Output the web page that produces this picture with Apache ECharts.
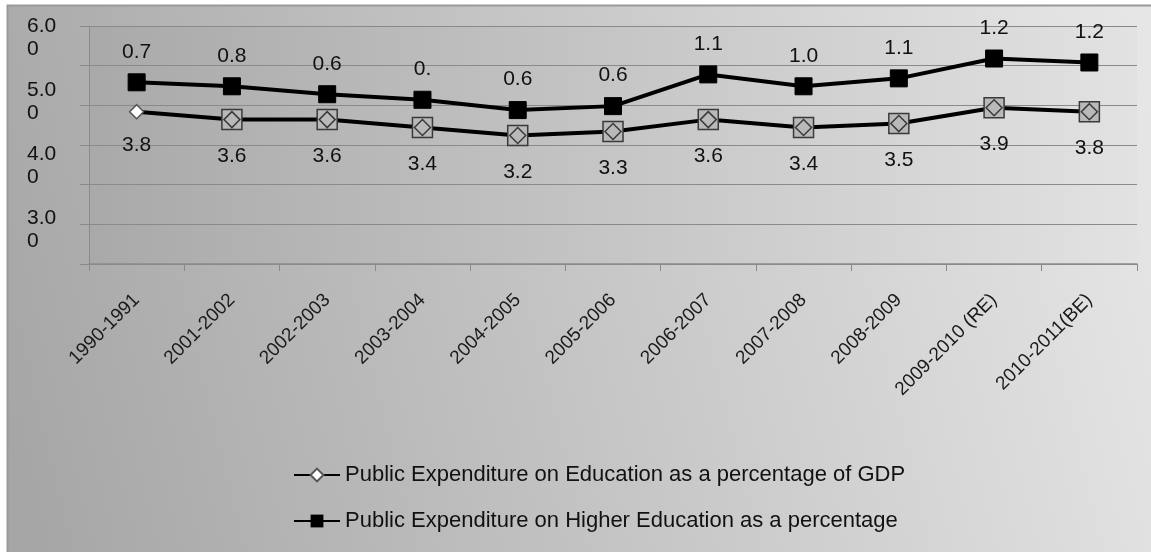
<!DOCTYPE html>
<html>
<head>
<meta charset="utf-8">
<script src="https://cdn.jsdelivr.net/npm/echarts@6/dist/echarts.min.js"></script>
<style>html,body{margin:0;padding:0;background:#fff}#c{width:1151px;height:552px}</style>
</head>
<body>
<div id="c"></div>
<script>
const categories = ['1990-1991','2001-2002','2002-2003','2003-2004','2004-2005','2005-2006','2006-2007','2007-2008','2008-2009','2009-2010 (RE)','2010-2011(BE)'];
const gdpShare = [3.84,3.64,3.64,3.44,3.24,3.34,3.64,3.44,3.54,3.94,3.84];
const higherShare = [0.74,0.84,0.64,0.70,0.64,0.64,1.14,1.04,1.14,1.24,1.24];
const higherLabels = ['0.7','0.8','0.6','0.','0.6','0.6','1.1','1.0','1.1','1.2','1.2'];
const yTickValues = [6,5,4,3,2];
const seriesNames = ['Public Expenditure on Education as a percentage of GDP','Public Expenditure on Higher Education as a percentage'];

const chart = echarts.init(document.getElementById('c'), null, {renderer:'canvas'});
const FONT = 'Liberation Sans, Arial, sans-serif';
const boxPath = 'path://M0,0L20,0L20,20L0,20Z M10,2L18,10L10,18L2,10Z';

const gdpData = gdpShare.map((v,i)=> i===0 ? {value:v} : {
  value:v, symbol:boxPath, symbolSize:20,
  itemStyle:{color:'#b9b9b9', borderColor:'#3a3a3a', borderWidth:1.5}
});

chart.setOption({
  backgroundColor:'#ffffff',
  animation:false,
  graphic:[{
    type:'rect', z:-10, silent:true,
    shape:{x:7.5,y:5.5,width:1150,height:560},
    style:{
      fill:new echarts.graphic.LinearGradient(0,0.75,1,0.25,[{offset:0,color:'#a6a6a6'},{offset:1,color:'#e6e6e6'}]),
      stroke:'#9a9a9a', lineWidth:2
    }
  }],
  grid:[
    {left:89,right:14,top:26,height:238,show:true,borderWidth:0,
     backgroundColor:new echarts.graphic.LinearGradient(0,0,1,0,[{offset:0,color:'#a9a9a9'},{offset:1,color:'#e2e2e2'}])},
    {left:27,width:1,top:38,height:255,show:false}
  ],
  legend:{
    orient:'vertical', left:288, top:459, itemWidth:46, itemHeight:16, itemGap:24,
    textStyle:{fontFamily:FONT,fontSize:22,color:'#111'},
    data:seriesNames
  },
  xAxis:[
    {type:'category',gridIndex:0,data:categories,boundaryGap:true,
     axisLine:{lineStyle:{color:'#8a8a8a',width:1.5}},
     axisTick:{show:true,length:7,lineStyle:{color:'#8a8a8a'}},
     axisLabel:{interval:0,rotate:45,margin:33,fontFamily:FONT,fontSize:19,color:'#1a1a1a'}},
    {type:'category',gridIndex:1,show:false,data:[]}
  ],
  yAxis:[
    {type:'value',gridIndex:0,min:0,max:6,interval:1,
     axisLine:{show:true,lineStyle:{color:'#8a8a8a'}},
     axisTick:{show:true,length:9,lineStyle:{color:'#8a8a8a'}},
     axisLabel:{show:false},
     splitLine:{lineStyle:{color:'#8a8a8a',width:1.2}}},
    {type:'value',gridIndex:1,min:Math.min(...yTickValues),max:Math.max(...yTickValues),interval:1,
     axisLine:{show:false},axisTick:{show:false},splitLine:{show:false},
     axisLabel:{align:'left',margin:0,fontFamily:FONT,fontSize:21,lineHeight:23,color:'#111',
       formatter:v=> v===2 ? '' : v.toFixed(1)+'\n0'}}
  ],
  series:[
    {name:seriesNames[0],type:'line',stack:'total',xAxisIndex:0,yAxisIndex:0,
     data:gdpData,symbol:'diamond',symbolSize:14,
     lineStyle:{color:'#000',width:4},
     itemStyle:{color:'#ffffff',borderColor:'#555',borderWidth:1.5},
     label:{show:true,position:'bottom',distance:15,fontFamily:FONT,fontSize:21,color:'#111',
       formatter:p=>gdpShare[p.dataIndex].toFixed(1)},
     z:3},
    {name:seriesNames[1],type:'line',stack:'total',xAxisIndex:0,yAxisIndex:0,
     data:higherShare,symbol:'rect',symbolSize:17,
     lineStyle:{color:'#000',width:4},
     itemStyle:{color:'#000',borderColor:'#000'},
     label:{show:true,position:'top',distance:11,fontFamily:FONT,fontSize:21,color:'#111',
       formatter:p=>higherLabels[p.dataIndex]},
     z:4}
  ]
});
</script>
</body>
</html>
